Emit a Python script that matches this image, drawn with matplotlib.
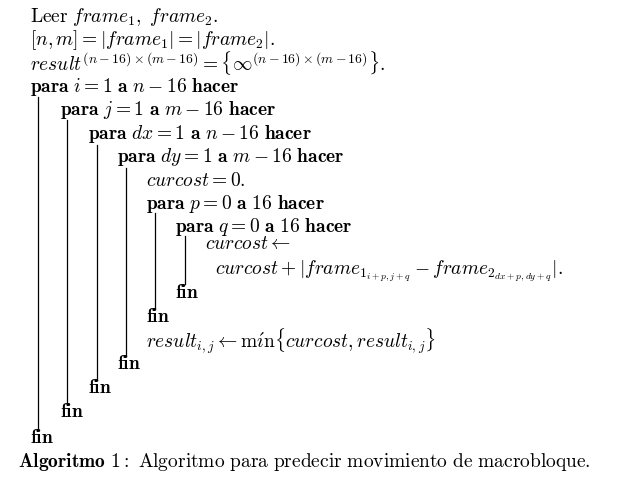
import matplotlib.pyplot as plt
import matplotlib as mpl
mpl.rcParams.update({'mathtext.fontset': 'cm', 'font.family': 'DejaVu Serif'})

W, H = 622, 494

# algorithm lines: (x, y, text) in pixels
lines_x = [30, 30, 30, 30, 60, 88, 117, 146, 146, 175, 205, 215, 175, 146, 146, 117, 88, 60, 30, 18]
lines_y = [17, 40, 63, 87, 110, 134, 157, 181, 204, 227, 244, 271, 293, 317, 341, 364, 388, 412, 438, 462]
lines_t = [
    r'$\mathrm{Leer}\ frame_1,\ frame_2.$',
    r'$[n,m] = |frame_1| = |frame_2|.$',
    r'$result^{(n-16)\times(m-16)} = \{\infty^{(n-16)\times(m-16)}\}.$',
    r'$\mathbf{para}\ i = 1\ \mathbf{a}\ n-16\ \mathbf{hacer}$',
    r'$\mathbf{para}\ j = 1\ \mathbf{a}\ m-16\ \mathbf{hacer}$',
    r'$\mathbf{para}\ dx = 1\ \mathbf{a}\ n-16\ \mathbf{hacer}$',
    r'$\mathbf{para}\ dy = 1\ \mathbf{a}\ m-16\ \mathbf{hacer}$',
    r'$curcost = 0.$',
    r'$\mathbf{para}\ p = 0\ \mathbf{a}\ 16\ \mathbf{hacer}$',
    r'$\mathbf{para}\ q = 0\ \mathbf{a}\ 16\ \mathbf{hacer}$',
    r'$curcost \leftarrow$',
    r'$curcost + |frame_{1_{i+p,j+q}} - frame_{2_{dx+p,dy+q}}|.$',
    r'$\mathbf{fin}$',
    r'$\mathbf{fin}$',
    r'$result_{i,j} \leftarrow \mathrm{m\acute{\imath}n}\{curcost, result_{i,j}\}$',
    r'$\mathbf{fin}$',
    r'$\mathbf{fin}$',
    r'$\mathbf{fin}$',
    r'$\mathbf{fin}$',
    r'$\mathbf{Algoritmo}\ \mathbf{1}\mathbf{:}\ \mathrm{Algoritmo\ para\ predecir\ movimiento\ de\ macrobloque.}$',
]

# indentation bars: x, y_top, y_bottom
bar_x = [38, 67, 97, 126, 155, 185]
bar_top = [97, 120, 145, 168, 213, 236]
bar_bot = [428, 404, 380, 356, 308, 284]

fig = plt.figure(figsize=(W / 100, H / 100), dpi=100)
ax = fig.add_axes([0, 0, 1, 1])
ax.set_xlim(0, W)
ax.set_ylim(H, 0)
ax.axis('off')

for x, y, t in zip(lines_x, lines_y, lines_t):
    ax.text(x, y, t, fontsize=14, va='center', ha='left')

for x, t, b in zip(bar_x, bar_top, bar_bot):
    ax.plot([x, x], [t, b], color='black', lw=0.9)

fig.savefig('out.png', dpi=100)
